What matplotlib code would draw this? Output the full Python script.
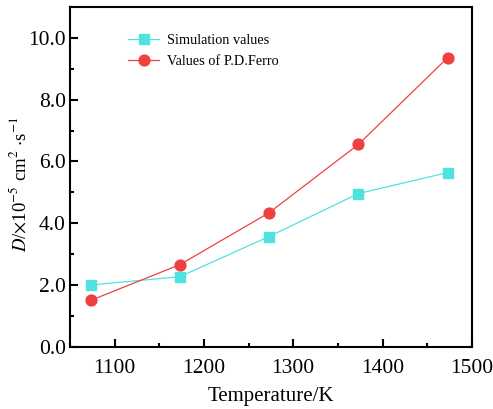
import matplotlib
matplotlib.use('Agg')
import matplotlib.pyplot as plt
from matplotlib.ticker import MultipleLocator

plt.rcParams['font.family'] = ['Liberation Serif', 'DejaVu Serif']
plt.rcParams['mathtext.fontset'] = 'stix'

# data
temperature = [1073, 1173, 1273, 1373, 1473]
sim_values = [2.0, 2.27, 3.57, 4.96, 5.64]
ferro_values = [1.50, 2.66, 4.34, 6.55, 9.36]

fig = plt.figure(figsize=(4.93, 4.09), dpi=100)
ax = fig.add_axes([0.142, 0.152, 0.815, 0.831])

ax.plot(temperature, sim_values, color='#4fe3e0', marker='s', markersize=6.7,
        linewidth=0.9, label='Simulation values')
ax.plot(temperature, ferro_values, color='#ef4040', marker='o', markersize=7.8,
        linewidth=0.9, label='Values of P.D.Ferro')

ax.set_xlim(1050, 1500)
ax.set_ylim(0, 11)
ax.xaxis.set_major_locator(MultipleLocator(100))
ax.xaxis.set_minor_locator(MultipleLocator(50))
ax.yaxis.set_major_locator(MultipleLocator(2))
ax.yaxis.set_minor_locator(MultipleLocator(1))
ax.yaxis.set_major_formatter(plt.FormatStrFormatter('%.1f'))

ax.tick_params(which='both', direction='in', width=1.5, labelsize=15.5)
ax.tick_params(which='major', length=5.5)
ax.tick_params(which='minor', length=2.8)
ax.tick_params(axis='x', which='major', pad=9)
ax.tick_params(axis='y', which='major', pad=3)
for s in ax.spines.values():
    s.set_linewidth(1.5)

ax.set_xlabel('Temperature/K', fontsize=15, labelpad=6)
ax.set_ylabel(r'$D$/$\times$10$^{-5}$ cm$^{2}$ $\cdot$s$^{-1}$', fontsize=13.5)
ax.yaxis.set_label_coords(-0.1, 0.48)

ax.legend(loc='upper left', bbox_to_anchor=(0.112, 0.958), frameon=False,
          fontsize=10.3, handlelength=2.2, labelspacing=0.55, handletextpad=0.5)

fig.savefig('out.png', dpi=100)
